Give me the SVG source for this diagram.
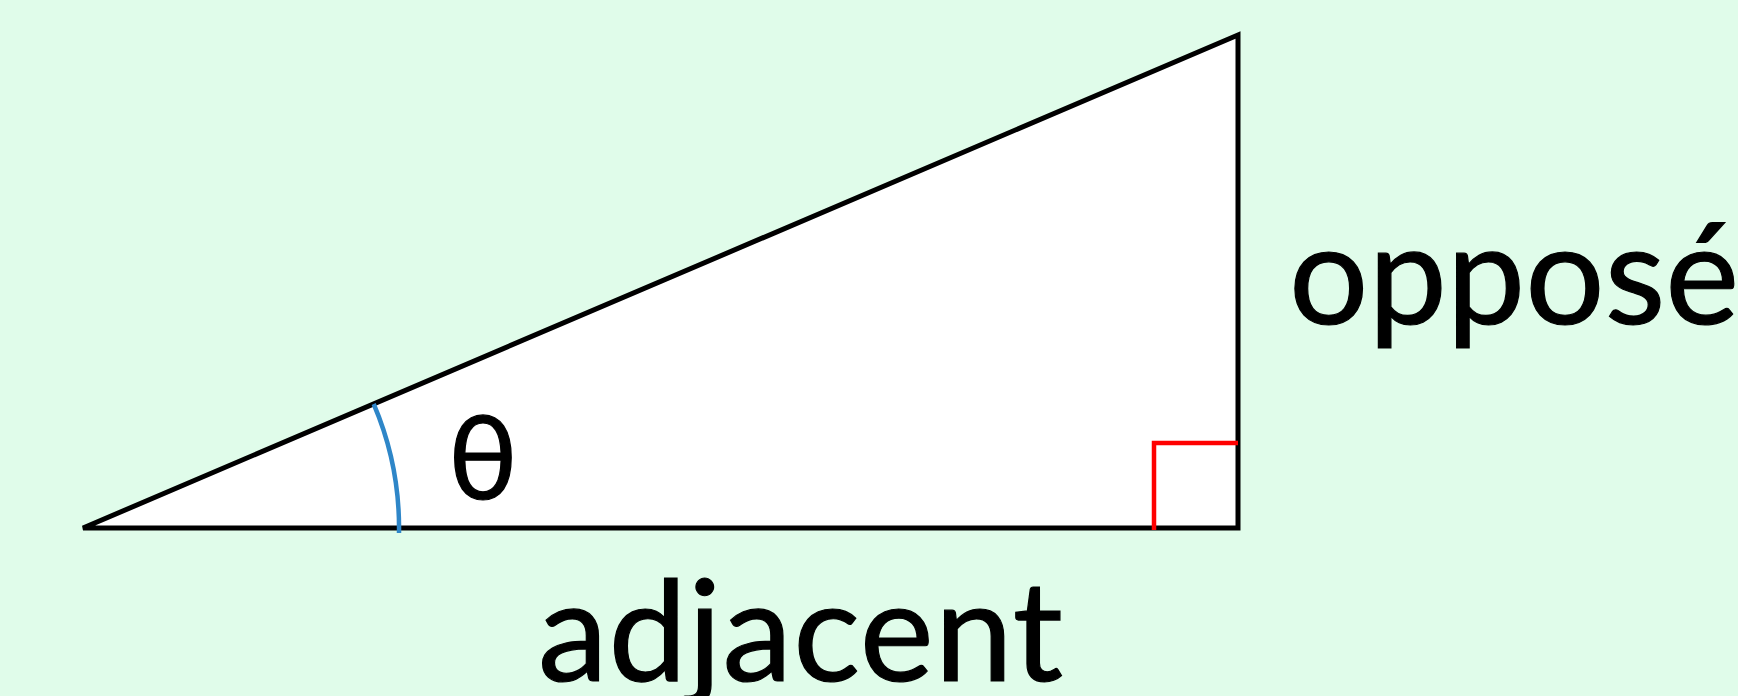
<svg xmlns="http://www.w3.org/2000/svg" width="1738" height="696" viewBox="0 0 1738 696">
<style>
text{font-family:Lato,"Open Sans","Liberation Sans",sans-serif;fill:#000;stroke:#000;stroke-width:1.2}
</style>
<rect width="1738" height="696" fill="#E0FCEA"/>
<g id="triangle">
<polygon points="83,528 1238,528 1238,35" fill="#fff" stroke="#000" stroke-width="5"/>
</g>
<g id="connectors">
<path id="angle-arc" d="M 399,533 A 316 316 0 0 0 373.7,404" fill="none" stroke="#2E86C8" stroke-width="4.5"/>
<path id="right-angle" d="M 1154,530 V 443 H 1238" fill="none" stroke="#FF0000" stroke-width="4.5"/>
</g>
<g id="theta"><text x="448" y="499" font-size="117">θ</text></g>
<g id="opposite"><text x="1289" y="324" font-size="140">opposé</text></g>
<g id="adjacent"><text x="538" y="681" font-size="140" letter-spacing="1">adjacent</text></g>
</svg>
